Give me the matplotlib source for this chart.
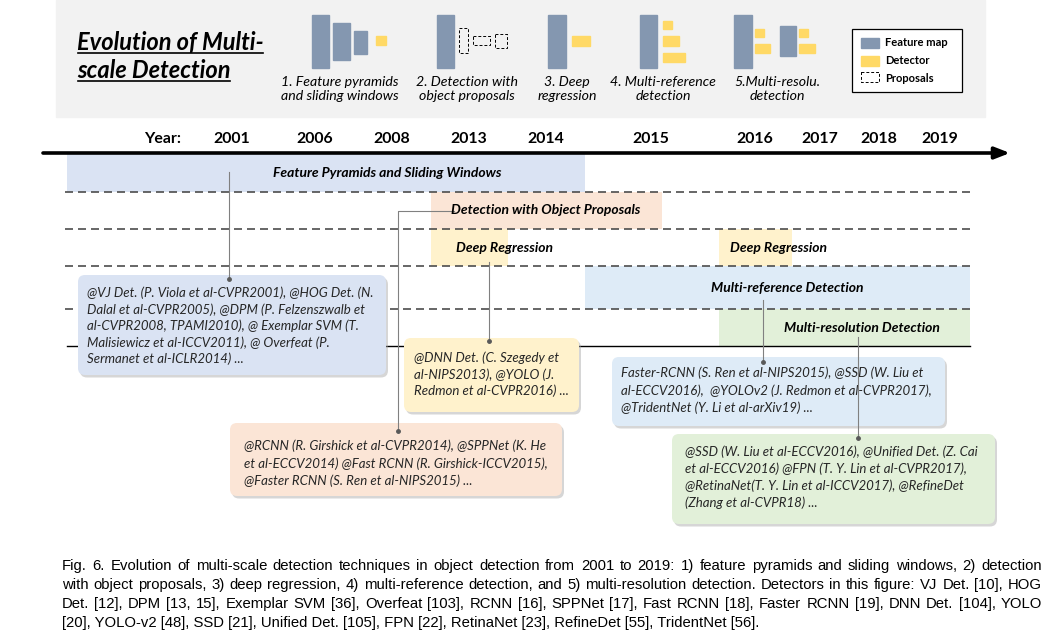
import matplotlib
matplotlib.use('Agg')
import matplotlib.pyplot as plt
from matplotlib.patches import Rectangle, FancyBboxPatch

# ---- dados do diagrama ----
years = ["2001", "2006", "2008", "2013", "2014", "2015", "2016", "2017", "2018", "2019"]
year_x = [232, 315, 392, 469, 546, 651, 755, 820, 879, 940]

band_names = ["Feature Pyramids and Sliding Windows", "Detection with Object Proposals",
              "Deep Regression", "Deep Regression", "Multi-reference Detection",
              "Multi-resolution Detection"]
band_row = [0, 1, 2, 2, 3, 4]
band_start = [67, 431, 431, 719, 585, 719]
band_end = [585, 662, 508, 792, 970, 970]
band_label_x = [387, 546, 505, 778, 787, 862]
band_colors = ["#dae3f3", "#fbe5d6", "#fff2cc", "#fff2cc", "#deebf7", "#e2f0d9"]

stage_labels = ["1. Feature pyramids\nand sliding windows", "2. Detection with\nobject proposals",
                "3. Deep\nregression", "4. Multi-reference\ndetection", "5.Multi-resolu.\ndetection"]
stage_x = [340, 467, 567, 663, 777]

box_texts = [
    ["@VJ Det. (P. Viola et al-CVPR2001), @HOG Det. (N.",
     "Dalal et al-CVPR2005), @DPM (P. Felzenszwalb et",
     "al-CVPR2008, TPAMI2010), @ Exemplar SVM (T.",
     "Malisiewicz et al-ICCV2011), @ Overfeat (P.",
     "Sermanet et al-ICLR2014) ..."],
    ["@DNN Det. (C. Szegedy et",
     "al-NIPS2013), @YOLO (J.",
     "Redmon et al-CVPR2016) ..."],
    ["@RCNN (R. Girshick et al-CVPR2014), @SPPNet (K. He",
     "et al-ECCV2014) @Fast RCNN (R. Girshick-ICCV2015),",
     "@Faster RCNN (S. Ren et al-NIPS2015) ..."],
    ["Faster-RCNN (S. Ren et al-NIPS2015), @SSD (W. Liu et",
     "al-ECCV2016),  @YOLOv2 (J. Redmon et al-CVPR2017),",
     "@TridentNet (Y. Li et al-arXiv19) ..."],
    ["@SSD (W. Liu et al-ECCV2016), @Unified Det. (Z. Cai",
     "et al-ECCV2016) @FPN (T. Y. Lin et al-CVPR2017),",
     "@RetinaNet(T. Y. Lin et al-ICCV2017), @RefineDet",
     "(Zhang et al-CVPR18) ..."],
]
box_colors = ["#dae3f3", "#fff2cc", "#fbe5d6", "#deebf7", "#e2f0d9"]
# (x, y, largura, altura, x do texto, y da 1a linha, espacamento)
box_layout = [(78, 275, 308, 100, 87, 293, 16.5),
              (404, 338, 175, 74, 414, 358, 16.5),
              (230, 423, 332, 73, 244, 446, 17.5),
              (612, 357, 333, 69, 621, 373, 17.5),
              (672, 434, 323, 90, 685, 452, 17)]

connectors = [[(229, 172), (229, 279)],
              [(454, 211), (398, 211), (398, 431)],
              [(489, 262), (489, 341)],
              [(763, 300), (763, 362)],
              [(858, 337), (858, 438)]]

caption = [
    "Fig. 6.  Evolution of multi-scale detection techniques in object detection from 2001 to 2019: 1) feature pyramids and sliding windows, 2) detection",
    "with object proposals, 3) deep regression, 4) multi-reference detection, and 5) multi-resolution detection. Detectors in this figure: VJ Det. [10], HOG",
    "Det. [12], DPM [13, 15], Exemplar SVM [36], Overfeat [103], RCNN [16], SPPNet [17], Fast RCNN [18], Faster RCNN [19], DNN Det. [104], YOLO",
    "[20], YOLO-v2 [48], SSD [21], Unified Det. [105], FPN [22], RetinaNet [23], RefineDet [55], TridentNet [56].",
]

FM = "#8497b0"
DT = "#ffd966"
FONT = "Lato"

fig = plt.figure(figsize=(10.48, 6.37), dpi=100)
ax = fig.add_axes([0, 0, 1, 1])
ax.set_xlim(0, 1048)
ax.set_ylim(637, 0)
ax.axis('off')

# ---- painel superior ----
ax.add_patch(Rectangle((56, 0), 929, 117, color="#f2f2f2", zorder=0))

t1 = ax.text(77, 50, "Evolution of Multi-", fontsize=17, fontweight='bold', style='italic',
             family=FONT, va='baseline')
t2 = ax.text(77, 78, "scale Detection", fontsize=17, fontweight='bold', style='italic',
             family=FONT, va='baseline')

# icones
icon_rects = [
    (312, 15, 17, 53, FM), (333, 23, 17, 37, FM), (354, 31, 13, 23, FM), (376, 36, 10, 9, DT),
    (437, 15, 17, 53, FM),
    (548, 15, 18, 53, FM), (572, 36, 18, 10, DT),
    (640, 15, 17, 53, FM), (663, 21, 9, 8, DT), (663, 36, 16, 10, DT), (663, 53, 22, 9, DT),
    (734, 15, 18, 53, FM), (755, 29, 9, 8, DT), (755, 44, 15, 9, DT),
    (780, 26, 16, 30, FM), (799, 29, 9, 8, DT), (799, 44, 16, 9, DT),
]
for x, y, w, h, c in icon_rects:
    ax.add_patch(Rectangle((x, y), w, h, color=c, zorder=1))
for x, y, w, h in [(459, 28, 9, 25), (473, 36, 17, 9), (495, 34, 12, 14)]:
    ax.add_patch(Rectangle((x, y), w, h, fill=False, ec='black', lw=0.7,
                           ls=(0, (3, 2)), zorder=1))

for lab, x in zip(stage_labels, stage_x):
    ax.text(x, 89, lab, fontsize=10.2, style='italic', family=FONT, ha='center', va='center',
            linespacing=1.2)

# legenda
ax.add_patch(Rectangle((852, 29), 110, 63, fc='white', ec='black', lw=0.9, zorder=1))
ax.add_patch(Rectangle((861, 38), 18, 10, color=FM, zorder=2))
ax.add_patch(Rectangle((861, 56), 18, 10, color=DT, zorder=2))
ax.add_patch(Rectangle((861, 72), 18, 10, fill=False, ec='black', lw=0.7, ls=(0, (3, 2)), zorder=2))
for y, s in zip([43, 61, 78], ["Feature map", "Detector", "Proposals"]):
    ax.text(885, y, s, fontsize=8, fontweight='bold', family=FONT, va='center')

# ---- linha do tempo ----
ax.text(163, 139, "Year:", fontsize=11.4, fontweight='bold', family=FONT, ha='center', va='center')
for y, x in zip(years, year_x):
    ax.text(x, 139, y, fontsize=11.4, fontweight='bold', family=FONT, ha='center', va='center')
ax.annotate('', xy=(1010, 153), xytext=(43, 153),
            arrowprops=dict(arrowstyle='-|>,head_length=0.9,head_width=0.35', lw=2.6,
                            color='black', shrinkA=0, shrinkB=0), zorder=5)

row_edges = [154, 192, 229, 266, 309, 346]
for name, r, s, e, lx, c in zip(band_names, band_row, band_start, band_end, band_label_x, band_colors):
    top, bot = row_edges[r], row_edges[r + 1]
    ax.barh((top + bot) / 2, e - s, left=s, height=bot - top, color=c, zorder=1)
    ax.text(lx, (top + bot) / 2, name, fontsize=10, fontweight='bold', style='italic',
            family=FONT, ha='center', va='center', zorder=6)

for y in row_edges[1:-1]:
    ax.plot([65, 970], [y, y], color='#4d4d4d', lw=1.2, ls=(0, (4.8, 3)), zorder=2)
ax.plot([67, 970], [346, 346], color='black', lw=1.0, zorder=2)

# caixas de referencias
for lines, c, (bx, by, bw, bh, tx, ty, sp) in zip(box_texts, box_colors, box_layout):
    ax.add_patch(FancyBboxPatch((bx + 2, by + 2.5), bw, bh, boxstyle="round,pad=0,rounding_size=7",
                                fc='#a6a6a6', ec='none', alpha=0.45, zorder=3))
    ax.add_patch(FancyBboxPatch((bx, by), bw, bh, boxstyle="round,pad=0,rounding_size=7",
                                fc=c, ec='none', zorder=3))
    for i, ln in enumerate(lines):
        ax.text(tx, ty + i * sp, ln, fontsize=9.5, style='italic', family=FONT,
                color='#262626', va='center', zorder=4)

for pts in connectors:
    xs, ys = zip(*pts)
    ax.plot(xs, ys, color='#808080', lw=0.8, zorder=5)
    ax.plot(xs[-1], ys[-1], 'o', color='#595959', ms=2.5, zorder=5)

# ---- sublinhado do titulo e legenda justificada ----
fig.canvas.draw()
r = fig.canvas.get_renderer()
inv = ax.transData.inverted()
for t, yl in [(t1, 53), (t2, 81)]:
    bb = t.get_window_extent(r)
    x0 = inv.transform((bb.x0, 0))[0]
    x1 = inv.transform((bb.x1, 0))[0]
    ax.plot([x0 + 1, x1 - 1], [yl, yl], color='black', lw=1.2)

cap_x0, cap_x1 = 62, 1042
cap_y = [566, 585, 604, 623]
for k, (line, y) in enumerate(zip(caption, cap_y)):
    words = line.split()
    if k == len(caption) - 1:
        ax.text(cap_x0, y, line, fontsize=10.7, family='Liberation Sans', va='center')
        continue
    ts = [ax.text(0, y, w, fontsize=10.7, family='Liberation Sans', va='center') for w in words]
    ws = []
    for t in ts:
        bb = t.get_window_extent(r)
        ws.append(bb.x1 - bb.x0)
    gap = (cap_x1 - cap_x0 - sum(ws)) / (len(words) - 1)
    x = cap_x0
    for t, w in zip(ts, ws):
        t.set_x(x)
        x += w + gap

fig.savefig("out.png", dpi=100)
